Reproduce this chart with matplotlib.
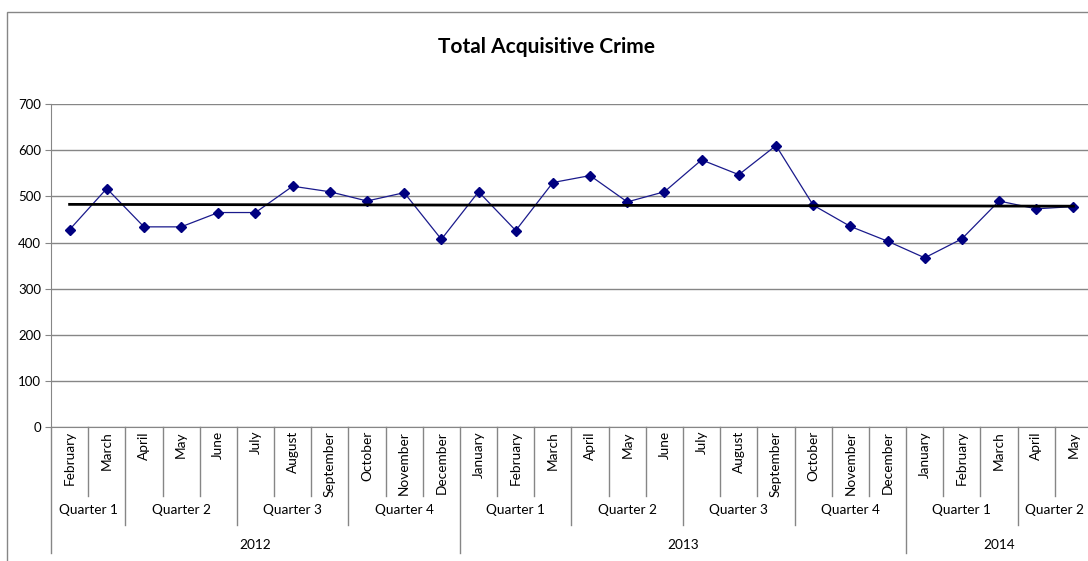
import numpy as np
import matplotlib
matplotlib.use("Agg")
import matplotlib.pyplot as plt
from matplotlib.patches import Rectangle

plt.rcParams['font.family'] = ['Lato', 'DejaVu Sans']

# data
months = ['February', 'March', 'April', 'May', 'June', 'July', 'August', 'September',
          'October', 'November', 'December',
          'January', 'February', 'March', 'April', 'May', 'June', 'July', 'August',
          'September', 'October', 'November', 'December',
          'January', 'February', 'March', 'April', 'May']
quarters = ['Quarter 1', 'Quarter 2', 'Quarter 3', 'Quarter 4',
            'Quarter 1', 'Quarter 2', 'Quarter 3', 'Quarter 4',
            'Quarter 1', 'Quarter 2']
quarter_sizes = [2, 3, 3, 3, 3, 3, 3, 3, 3, 2]
years = ['2012', '2013', '2014']
year_sizes = [11, 12, 5]
crimes = [428, 517, 434, 434, 465, 465, 522, 510, 490, 508, 407,
          510, 426, 530, 545, 488, 510, 579, 547, 610, 481, 435, 403,
          367, 408, 490, 473, 478]

W, H = 1088, 561
grey = '#868686'

fig = plt.figure(figsize=(W / 100, H / 100), dpi=100)
# chart border (cropped on right/bottom)
fig.patches.append(Rectangle((7 / W, -0.2), 1.5, 1 - 12 / H + 0.2, transform=fig.transFigure,
                             fill=False, edgecolor=grey, linewidth=1))

ax_left, ax_right = 51, 1092
ax_top, ax_bot = 104, 427.3
ax = fig.add_axes([ax_left / W, 1 - ax_bot / H, (ax_right - ax_left) / W, (ax_bot - ax_top) / H])

n = len(crimes)
x = np.arange(n)
ax.plot(x, crimes, color='#1a1a8c', linewidth=0.9, marker='D', markersize=5,
        markerfacecolor='#000080', markeredgecolor='#000080', zorder=3)

# linear trend line
k, b = np.polyfit(x, crimes, 1)
ax.plot([x[0], x[-1]], [k * x[0] + b, k * x[-1] + b], color='black', linewidth=2, zorder=4)

ax.set_xlim(-0.5, n - 0.5)
ax.set_ylim(0, 700)
ax.set_yticks(range(0, 701, 100))
ax.yaxis.grid(True, color=grey, linewidth=1)
ax.set_axisbelow(True)
ax.set_xticks([])
for s in ['top', 'right']:
    ax.spines[s].set_visible(False)
for s in ['left', 'bottom']:
    ax.spines[s].set_color(grey)
ax.tick_params(axis='y', length=4, color=grey, labelsize=9.5, pad=3)

fig.text(546 / W, 1 - 47 / H, 'Total Acquisitive Crime', fontsize=15, fontweight='bold',
         ha='center', va='center')

# multi-level category axis
tr = ax.get_xaxis_transform()
ah = ax_bot - ax_top
def fy(py):
    return (ax_bot - py) / ah

row1, row2, row3 = fy(496), fy(525), fy(553)

for i, m in enumerate(months):
    ax.text(i, fy(431), m, transform=tr, rotation=90, ha='center', va='top', fontsize=9.8)

q_start = np.cumsum([0] + quarter_sizes[:-1])
y_start = np.cumsum([0] + year_sizes[:-1])
year_edges = set(y_start)
quarter_edges = set(q_start)
for e in range(n):
    if e in year_edges:
        bottom = row3
    elif e in quarter_edges:
        bottom = row2
    else:
        bottom = row1
    ax.plot([e - 0.5, e - 0.5], [0, bottom], transform=tr, color=grey, linewidth=1, clip_on=False)

for s, size, q in zip(q_start, quarter_sizes, quarters):
    ax.text(s - 0.5 + size / 2, fy(510), q, transform=tr, ha='center', va='center', fontsize=9.8)
for s, size, yr in zip(y_start, year_sizes, years):
    ax.text(s - 0.5 + size / 2, fy(545), yr, transform=tr, ha='center', va='center', fontsize=9.8)

fig.savefig('out.png', dpi=100)
